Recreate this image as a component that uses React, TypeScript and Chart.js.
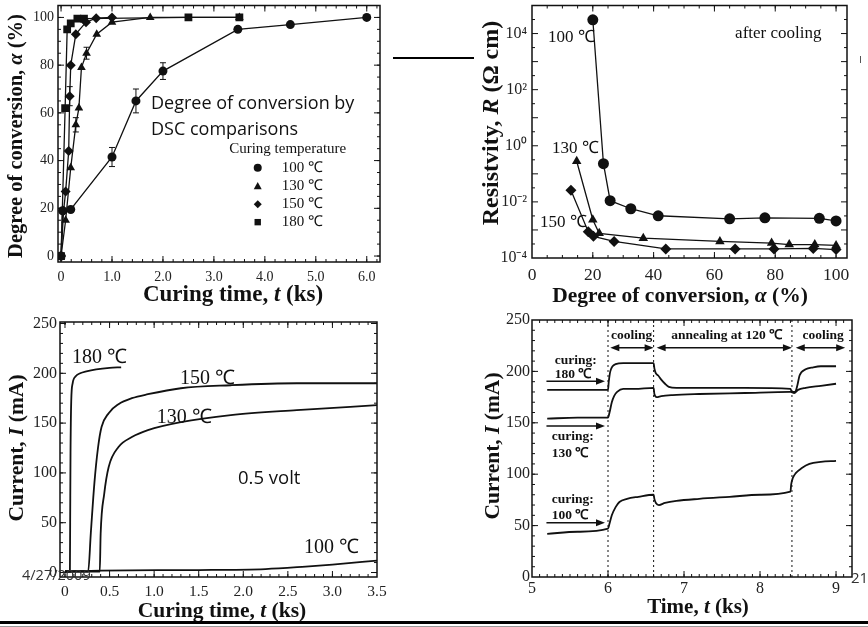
import React, { useEffect, useRef } from 'react';
import { Chart, registerables } from 'chart.js';

Chart.register(...registerables);

const INK = '#111111';
const SERIF = "'Liberation Serif', 'Times New Roman', serif";
const SANS = "'Open Sans', 'Noto Sans', sans-serif";

// ===== Panel A: degree of conversion vs curing time =====
const tempLabels = ['100 ℃', '130 ℃', '150 ℃', '180 ℃'];
const convT100 = [0, 0.03, 0.19, 1.0, 1.47, 2.0, 3.47, 4.5, 6.0];
const convA100 = [0, 19, 19.5, 41.5, 65, 77.5, 95, 97, 100];
const convT130 = [0, 0.09, 0.19, 0.29, 0.35, 0.4, 0.5, 0.7, 1.0, 1.75, 3.5];
const convA130 = [0, 15, 37, 55, 62, 79, 85, 93, 98, 100, 100];
const convT150 = [0, 0.05, 0.09, 0.15, 0.17, 0.19, 0.29, 0.49, 0.69, 1.0];
const convA150 = [0, 19, 27, 44, 67, 80, 93, 98, 99.7, 100];
const convT180 = [0, 0.08, 0.12, 0.19, 0.32, 0.45, 2.5, 3.5];
const convA180 = [0, 62, 95, 97.5, 99.5, 99.5, 100, 100];
const errT = [1.0, 1.47, 2.0, 0.29, 0.5, 0.17];
const errA = [41.5, 65, 77.5, 55, 85, 67];
const errE = [4, 5, 3.5, 3, 2.5, 4];
const convXTicks = [0, 1, 2, 3, 4, 5, 6];
const convYTicks = [0, 20, 40, 60, 80, 100];

// ===== Panel B: resistivity vs degree of conversion =====
const resA100 = [20, 23.5, 25.7, 32.5, 41.5, 65, 76.6, 94.5, 100];
const resR100 = [3.1e4, 0.23, 0.011, 0.0057, 0.0032, 0.0025, 0.0027, 0.0026, 0.0021];
const resA130 = [14.7, 20, 22.1, 36.6, 61.8, 78.8, 84.6, 93, 100];
const resR130 = [0.28, 0.0023, 7.6e-4, 5.1e-4, 3.9e-4, 3.4e-4, 3.0e-4, 3.0e-4, 2.8e-4];
const resA150 = [12.8, 18.5, 20.2, 27, 44, 66.8, 79.6, 92.5, 100];
const resR150 = [0.026, 8.7e-4, 5.9e-4, 3.9e-4, 2.1e-4, 2.1e-4, 2.1e-4, 2.2e-4, 2.0e-4];
const resXTicks = [0, 20, 40, 60, 80, 100];
const resYTicks = [1e-4, 1e-2, 1, 1e2, 1e4];

// ===== Panel C: current vs curing time (0.5 volt) =====
const curT180 = [0, 0.055, 0.058, 0.062, 0.07, 0.086, 0.12, 0.17, 0.24, 0.35, 0.5, 0.63];
const curI180 = [1, 1, 50, 120, 172, 190, 197, 200, 202, 204, 205.5, 206];
const curT150 = [0, 0.26, 0.29, 0.33, 0.37, 0.41, 0.49, 0.6, 0.75, 0.93, 1.3, 1.86, 2.6, 3.5];
const curI150 = [1, 1, 40, 90, 125, 146, 160, 169, 175, 179, 185, 188, 190, 190];
const curT130 = [0, 0.39, 0.4, 0.44, 0.49, 0.6, 0.75, 0.93, 1.3, 1.86, 2.6, 3.5];
const curI130 = [1, 1, 39, 79, 106, 126, 136, 143, 151, 158, 163, 168];
const curT100 = [0, 0.4, 1.5, 2.25, 2.7, 3.0, 3.5];
const curI100 = [1, 2, 2.5, 3.5, 6, 8, 12];
const curXTicks = [0, 0.5, 1, 1.5, 2, 2.5, 3, 3.5];
const curYTicks = [0, 50, 100, 150, 200, 250];

// ===== Panel D: current vs time (curing / cooling / annealing) =====
const timT180 = [5.2, 5.6, 6.0, 6.01, 6.03, 6.06, 6.1, 6.2, 6.4, 6.6, 6.61, 6.63, 6.66, 6.7, 6.75, 6.8, 6.9, 7.2, 7.8, 8.4, 8.42, 8.46, 8.49, 8.52, 8.6, 8.7, 8.8, 9.0];
const timI180 = [182, 182, 182, 190, 200, 205, 207, 208, 208, 208, 203, 198, 196, 192, 188, 185, 184, 184, 184, 183, 180, 180, 186, 196, 202, 204, 205, 205];
const timT130 = [5.2, 5.6, 6.0, 6.02, 6.05, 6.08, 6.12, 6.2, 6.35, 6.6, 6.61, 6.64, 6.7, 6.85, 7.2, 7.8, 8.4, 8.45, 8.5, 8.6, 8.8, 9.0];
const timI130 = [154, 155, 155, 160, 170, 176, 180, 183, 183, 184, 178, 175, 176, 177, 178, 179, 180, 179, 182, 184, 186, 188];
const timT100 = [5.2, 5.6, 6.0, 6.02, 6.05, 6.1, 6.15, 6.25, 6.4, 6.6, 6.61, 6.63, 6.67, 6.75, 6.9, 7.2, 7.6, 8.0, 8.4, 8.41, 8.43, 8.47, 8.55, 8.65, 8.8, 9.0];
const timI100 = [42, 44, 47, 52, 60, 68, 73, 76, 78, 80, 76, 72, 70, 72, 74, 76, 78, 80, 83, 90, 96, 101, 106, 110, 112, 113];
const stageLines = [6.0, 6.6, 8.42];
const timXTicks = [5, 6, 7, 8, 9];
const timYTicks = [0, 50, 100, 150, 200, 250];

// ---------- helpers ----------
function range(a: number, b: number, s: number) {
  const out: number[] = [];
  for (let v = a; v <= b + 1e-9; v += s) out.push(+v.toFixed(6));
  return out;
}
const pts = (xs: number[], ys: number[]) => xs.map((x, i) => ({ x, y: ys[i] }));
const SUP: Record<string, string> = { '-': '⁻', '0': '⁰', '1': '¹', '2': '²', '3': '³', '4': '⁴', '5': '⁵' };
const sup = (n: number) => String(n).split('').map((c) => SUP[c] || c).join('');

type Part = [string, boolean];

function drawRich(ctx: CanvasRenderingContext2D, parts: Part[], cx: number, cy: number, size: number, rot: boolean) {
  ctx.save();
  ctx.translate(cx, cy);
  if (rot) ctx.rotate(-Math.PI / 2);
  const fonts = parts.map(([, it]) => `${it ? 'italic ' : ''}bold ${size}px ${SERIF}`);
  let total = 0;
  const ws = parts.map((p, i) => {
    ctx.font = fonts[i];
    const w = ctx.measureText(p[0]).width;
    total += w;
    return w;
  });
  let x = -total / 2;
  ctx.textBaseline = 'middle';
  ctx.textAlign = 'left';
  ctx.fillStyle = INK;
  parts.forEach((p, i) => {
    ctx.font = fonts[i];
    ctx.fillText(p[0], x, 0);
    x += ws[i];
  });
  ctx.restore();
}

function drawMarker(ctx: CanvasRenderingContext2D, style: string, x: number, y: number, r: number) {
  ctx.beginPath();
  if (style === 'circle') ctx.arc(x, y, r, 0, Math.PI * 2);
  else if (style === 'triangle') {
    ctx.moveTo(x, y - r * 1.1);
    ctx.lineTo(x - r, y + r * 0.7);
    ctx.lineTo(x + r, y + r * 0.7);
    ctx.closePath();
  } else if (style === 'rectRot') {
    ctx.moveTo(x, y - r);
    ctx.lineTo(x + r, y);
    ctx.lineTo(x, y + r);
    ctx.lineTo(x - r, y);
    ctx.closePath();
  } else {
    ctx.rect(x - r * 0.8, y - r * 0.8, r * 1.6, r * 1.6);
  }
  ctx.fill();
}

interface FrameCfg { xMajor: number[]; xMinor: number[]; yMajor: number[]; yMinor: number[] }
function framePlugin(f: FrameCfg) {
  return {
    id: 'frame',
    afterDatasetsDraw(chart: any) {
      const { ctx, chartArea: a, scales } = chart;
      const x = scales.x, y = scales.y;
      ctx.save();
      ctx.strokeStyle = INK;
      ctx.lineWidth = 1.5;
      ctx.strokeRect(a.left, a.top, a.right - a.left, a.bottom - a.top);
      ctx.lineWidth = 1;
      const seg = (x1: number, y1: number, x2: number, y2: number) => {
        ctx.beginPath();
        ctx.moveTo(x1, y1);
        ctx.lineTo(x2, y2);
        ctx.stroke();
      };
      const xt = (vals: number[], len: number) => vals.forEach((v) => {
        const p = x.getPixelForValue(v);
        if (p < a.left + 1 || p > a.right - 1) return;
        seg(p, a.bottom, p, a.bottom - len);
        seg(p, a.top, p, a.top + len);
      });
      const yt = (vals: number[], len: number) => vals.forEach((v) => {
        const p = y.getPixelForValue(v);
        if (p < a.top + 1 || p > a.bottom - 1) return;
        seg(a.left, p, a.left + len, p);
        seg(a.right, p, a.right - len, p);
      });
      xt(f.xMajor, 6); xt(f.xMinor, 3);
      yt(f.yMajor, 6); yt(f.yMinor, 3);
      ctx.restore();
    },
  };
}

interface TextItem { x: number; y: number; text: string; font: string; align?: CanvasTextAlign }
interface ArrowItem { x1: number; x2: number; y: number; both: boolean }
interface MarkItem { x: number; y: number; style: string; r: number }
interface TitleItem { parts: Part[]; cx: number; cy: number; size: number; rot: boolean }
interface AnnotCfg { texts?: TextItem[]; arrows?: ArrowItem[]; marks?: MarkItem[]; titles?: TitleItem[]; errors?: { x: number; y: number; e: number }[] }

function annotPlugin(o: AnnotCfg) {
  return {
    id: 'annot',
    afterDraw(chart: any) {
      const { ctx, scales } = chart;
      const X = (v: number) => scales.x.getPixelForValue(v);
      const Y = (v: number) => scales.y.getPixelForValue(v);
      ctx.save();
      ctx.fillStyle = INK;
      ctx.strokeStyle = INK;
      ctx.lineWidth = 1;
      (o.errors || []).forEach((e) => {
        const px = X(e.x), p1 = Y(e.y - e.e), p2 = Y(e.y + e.e);
        ctx.beginPath();
        ctx.moveTo(px, p1); ctx.lineTo(px, p2);
        ctx.moveTo(px - 3, p1); ctx.lineTo(px + 3, p1);
        ctx.moveTo(px - 3, p2); ctx.lineTo(px + 3, p2);
        ctx.stroke();
      });
      (o.texts || []).forEach((t) => {
        ctx.font = t.font;
        ctx.textAlign = t.align || 'left';
        ctx.textBaseline = 'middle';
        ctx.fillText(t.text, X(t.x), Y(t.y));
      });
      (o.marks || []).forEach((m) => drawMarker(ctx, m.style, X(m.x), Y(m.y), m.r));
      (o.arrows || []).forEach((a) => {
        const x1 = X(a.x1), x2 = X(a.x2), py = Y(a.y);
        ctx.lineWidth = 1.5;
        ctx.beginPath();
        ctx.moveTo(x1 + (a.both ? 4 : 0), py);
        ctx.lineTo(x2 - 4, py);
        ctx.stroke();
        const head = (tip: number, dir: number) => {
          ctx.beginPath();
          ctx.moveTo(tip, py);
          ctx.lineTo(tip - dir * 9, py - 3.5);
          ctx.lineTo(tip - dir * 9, py + 3.5);
          ctx.closePath();
          ctx.fill();
        };
        head(x2, 1);
        if (a.both) head(x1, -1);
      });
      (o.titles || []).forEach((t) => drawRich(ctx, t.parts, t.cx, t.cy, t.size, t.rot));
      ctx.restore();
    },
  };
}

interface AxisSpec { type?: string; min: number; max: number; ticks: number[]; fmt: (v: number) => string; size: number; pad: number }

function baseOptions(w: number, h: number, area: number[], xs: AxisSpec, ys: AxisSpec) {
  const axis = (s: AxisSpec, horiz: boolean) => ({
    type: s.type || 'linear',
    min: s.min,
    max: s.max,
    grid: { display: false, drawTicks: false },
    border: { display: false },
    title: { display: false },
    ticks: {
      font: { family: SERIF, size: s.size },
      color: '#222',
      padding: s.pad,
      maxRotation: 0,
      autoSkip: false,
      callback: (v: any) => s.fmt(Number(v)),
    },
    afterBuildTicks: (sc: any) => { sc.ticks = s.ticks.map((v) => ({ value: v })); },
    afterFit: (sc: any) => {
      if (horiz) { sc.height = h - area[3]; sc.paddingLeft = 0; sc.paddingRight = 0; }
      else { sc.width = area[0]; sc.paddingTop = 0; sc.paddingBottom = 0; }
    },
  });
  return {
    responsive: false,
    animation: false,
    devicePixelRatio: 1,
    events: [],
    layout: { padding: { left: 0, top: area[1], right: w - area[2], bottom: 0 } },
    plugins: { legend: { display: false }, tooltip: { enabled: false } },
    scales: { x: axis(xs, true), y: axis(ys, false) },
  };
}

const fmt1 = (v: number) => (v === 0 ? '0' : v.toFixed(1));
const fmtInt = (v: number) => String(Math.round(v));

// ---------- chart builders ----------
const markerStyles = ['circle', 'triangle', 'rectRot', 'rect'];

function makeConversion() {
  const series = [pts(convT100, convA100), pts(convT130, convA130), pts(convT150, convA150), pts(convT180, convA180)];
  const radii = [4.5, 5, 5, 5.5];
  const datasets = series.map((d, i) => ({
    label: tempLabels[i], data: d, showLine: true, borderColor: INK, backgroundColor: INK,
    borderWidth: 1.3, pointStyle: markerStyles[i], pointRadius: radii[i], pointBorderWidth: 0, tension: 0,
  }));
  const legendY = [37, 29.2, 21.7, 14.2];
  return {
    type: 'scatter',
    data: { datasets },
    options: baseOptions(400, 310, [58, 4, 380, 262],
      { min: -0.06, max: 6.26, ticks: convXTicks, fmt: fmt1, size: 14, pad: 6.5 },
      { min: -2.5, max: 105, ticks: convYTicks, fmt: fmtInt, size: 14, pad: 4 }),
    plugins: [
      framePlugin({ xMajor: range(0, 6, 1), xMinor: range(0, 6.2, 0.2), yMajor: range(0, 100, 20), yMinor: range(0, 105, 5) }),
      annotPlugin({
        errors: errT.map((x, i) => ({ x, y: errA[i], e: errE[i] })),
        texts: [
          { x: 3.3, y: 45, text: 'Curing temperature', font: `15px ${SERIF}` },
          ...tempLabels.map((t, i) => ({ x: 4.33, y: legendY[i], text: t, font: `15px ${SERIF}` })),
        ],
        marks: markerStyles.map((s, i) => ({ x: 3.86, y: legendY[i], style: s, r: 4 })),
        titles: [
          { parts: [['Curing time, ', false], ['t', true], [' (ks)', false]], cx: 233, cy: 295, size: 23, rot: false },
          { parts: [['Degree of conversion, ', false], ['α', true], [' (%)', false]], cx: 17, cy: 136, size: 20.5, rot: true },
        ],
      }),
    ],
  };
}

function makeResistivity() {
  const series = [pts(resA100, resR100), pts(resA130, resR130), pts(resA150, resR150)];
  const datasets = series.map((d, i) => ({
    label: tempLabels[i], data: d, showLine: true, borderColor: INK, backgroundColor: INK,
    borderWidth: 1.3, pointStyle: markerStyles[i], pointRadius: 5.5, pointBorderWidth: 0, tension: 0,
  }));
  const ann = `17px ${SERIF}`;
  return {
    type: 'scatter',
    data: { datasets },
    options: baseOptions(408, 310, [72, 5, 387, 258],
      { min: 0, max: 103.6, ticks: resXTicks, fmt: fmtInt, size: 17.5, pad: 6.5 },
      { type: 'logarithmic', min: 1e-4, max: 1e5, ticks: resYTicks, fmt: (v) => '10' + sup(Math.round(Math.log10(v))), size: 16, pad: 5 }),
    plugins: [
      framePlugin({
        xMajor: resXTicks, xMinor: range(0, 100, 5),
        yMajor: range(-4, 5, 1).map((e) => Math.pow(10, e)),
        yMinor: range(-4, 4, 1).map((e) => Math.pow(10, e + 0.5)),
      }),
      annotPlugin({
        texts: [
          { x: 5.3, y: 7200, text: '100 ℃', font: ann },
          { x: 6.6, y: 0.78, text: '130 ℃', font: ann },
          { x: 2.6, y: 0.0019, text: '150 ℃', font: ann },
          { x: 66.8, y: 1e4, text: 'after cooling', font: ann },
        ],
        titles: [
          { parts: [['Degree of conversion, ', false], ['α', true], [' (%)', false]], cx: 220, cy: 296, size: 21.5, rot: false },
          { parts: [['Resistvity, ', false], ['R', true], [' (Ω cm)', false]], cx: 32, cy: 123, size: 24, rot: true },
        ],
      }),
    ],
  };
}

function makeCurrentCuring() {
  const series = [pts(curT180, curI180), pts(curT150, curI150), pts(curT130, curI130), pts(curT100, curI100)];
  const names = ['180 ℃', '150 ℃', '130 ℃', '100 ℃'];
  const datasets = series.map((d, i) => ({
    label: names[i], data: d, showLine: true, borderColor: INK, borderWidth: 1.8,
    pointRadius: 0, cubicInterpolationMode: 'monotone',
  }));
  return {
    type: 'scatter',
    data: { datasets },
    options: baseOptions(400, 317, [60, 12, 377, 267],
      { min: -0.056, max: 3.5, ticks: curXTicks, fmt: fmt1, size: 15.5, pad: 6 },
      { min: -4.5, max: 251.5, ticks: curYTicks, fmt: fmtInt, size: 16, pad: 3 }),
    plugins: [
      framePlugin({ xMajor: curXTicks, xMinor: range(0, 3.5, 0.1), yMajor: curYTicks, yMinor: range(0, 250, 10) }),
      annotPlugin({
        texts: [
          { x: 0.08, y: 216, text: '180 ℃', font: `20px ${SERIF}` },
          { x: 1.29, y: 195, text: '150 ℃', font: `20px ${SERIF}` },
          { x: 1.03, y: 155, text: '130 ℃', font: `20px ${SERIF}` },
          { x: 2.68, y: 24.4, text: '100 ℃', font: `20px ${SERIF}` },
        ],
        titles: [
          { parts: [['Curing time, ', false], ['t', true], [' (ks)', false]], cx: 222, cy: 301, size: 21.5, rot: false },
          { parts: [['Current, ', false], ['I', true], [' (mA)', false]], cx: 17, cy: 138, size: 21.5, rot: true },
        ],
      }),
    ],
  };
}

function makeCurrentTime() {
  const series = [pts(timT180, timI180), pts(timT130, timI130), pts(timT100, timI100)];
  const datasets: any[] = series.map((d, i) => ({
    label: tempLabels[[3, 1, 0][i]], data: d, showLine: true, borderColor: INK, borderWidth: 1.8,
    pointRadius: 0, cubicInterpolationMode: 'monotone',
  }));
  stageLines.forEach((t) => datasets.push({
    label: 'stage', data: [{ x: t, y: 0 }, { x: t, y: 250 }], showLine: true, borderColor: INK,
    borderWidth: 1, borderDash: [2, 3], pointRadius: 0,
  }));
  const bold = `bold 13.5px ${SERIF}`;
  return {
    type: 'scatter',
    data: { datasets },
    options: baseOptions(408, 317, [72, 10, 392, 267],
      { min: 5, max: 9.21, ticks: timXTicks, fmt: fmtInt, size: 16, pad: 2 },
      { min: 0, max: 250, ticks: timYTicks, fmt: fmtInt, size: 16, pad: 2 }),
    plugins: [
      framePlugin({ xMajor: timXTicks, xMinor: range(5, 9.2, 0.1), yMajor: timYTicks, yMinor: range(0, 250, 10) }),
      annotPlugin({
        texts: [
          { x: 6.31, y: 235, text: 'cooling', font: bold, align: 'center' },
          { x: 7.56, y: 235, text: 'annealing at 120 ℃', font: bold, align: 'center' },
          { x: 8.83, y: 235, text: 'cooling', font: bold, align: 'center' },
          { x: 5.3, y: 211, text: 'curing:', font: bold },
          { x: 5.3, y: 196.5, text: '180 ℃', font: bold },
          { x: 5.26, y: 136.5, text: 'curing:', font: bold },
          { x: 5.26, y: 120, text: '130 ℃', font: bold },
          { x: 5.26, y: 75, text: 'curing:', font: bold },
          { x: 5.26, y: 60, text: '100 ℃', font: bold },
        ],
        arrows: [
          { x1: 6.03, x2: 6.6, y: 223, both: true },
          { x1: 6.64, x2: 8.42, y: 223, both: true },
          { x1: 8.47, x2: 9.12, y: 223, both: true },
          { x1: 5.19, x2: 5.96, y: 190.5, both: false },
          { x1: 5.19, x2: 5.96, y: 147, both: false },
          { x1: 5.19, x2: 5.96, y: 52.8, both: false },
        ],
        titles: [
          { parts: [['Time, ', false], ['t', true], [' (ks)', false]], cx: 238, cy: 298, size: 21, rot: false },
          { parts: [['Current, ', false], ['I', true], [' (mA)', false]], cx: 33, cy: 136, size: 21.5, rot: true },
        ],
      }),
    ],
  };
}

function Panel({ left, top, width, height, make }: { left: number; top: number; width: number; height: number; make: () => any }) {
  const ref = useRef<HTMLCanvasElement | null>(null);
  useEffect(() => {
    if (!ref.current) return;
    const chart = new Chart(ref.current, make());
    return () => chart.destroy();
  }, []);
  return <canvas ref={ref} width={width} height={height} style={{ position: 'absolute', left, top, width, height }} />;
}

export default function App() {
  useEffect(() => { document.body.style.margin = '0'; }, []);
  const sans = (size: number) => ({ fontFamily: SANS, fontSize: size, color: '#111', position: 'absolute' as const, whiteSpace: 'nowrap' as const });
  return (
    <div style={{ position: 'fixed', left: 0, top: 0, width: 868, height: 627, background: '#fff', overflow: 'hidden' }}>
      <Panel left={0} top={0} width={400} height={310} make={makeConversion} />
      <Panel left={460} top={0} width={408} height={310} make={makeResistivity} />
      <Panel left={0} top={310} width={400} height={317} make={makeCurrentCuring} />
      <Panel left={460} top={310} width={408} height={317} make={makeCurrentTime} />
      <div style={{ position: 'absolute', left: 393, top: 57, width: 81, height: 2, background: '#000' }} />
      <div style={{ position: 'absolute', left: 860, top: 56, width: 1, height: 7, background: '#555' }} />
      <div style={{ position: 'absolute', left: 0, top: 621, width: 868, height: 3, background: '#000' }} />
      <div style={{ position: 'absolute', left: 0, top: 626, width: 868, height: 1, background: '#999' }} />
      <div style={{ ...sans(18), left: 151, top: 89, lineHeight: '26px' }}>
        Degree of conversion by<br />DSC comparisons
      </div>
      <div style={{ ...sans(18.5), left: 238, top: 464, lineHeight: '26px' }}>0.5 volt</div>
      <div style={{ ...sans(14.5), left: 22, top: 565, lineHeight: '20px', color: '#333' }}>4/27/2009</div>
      <div style={{ ...sans(15), left: 851, top: 567, lineHeight: '20px', color: '#333' }}>21</div>
    </div>
  );
}
